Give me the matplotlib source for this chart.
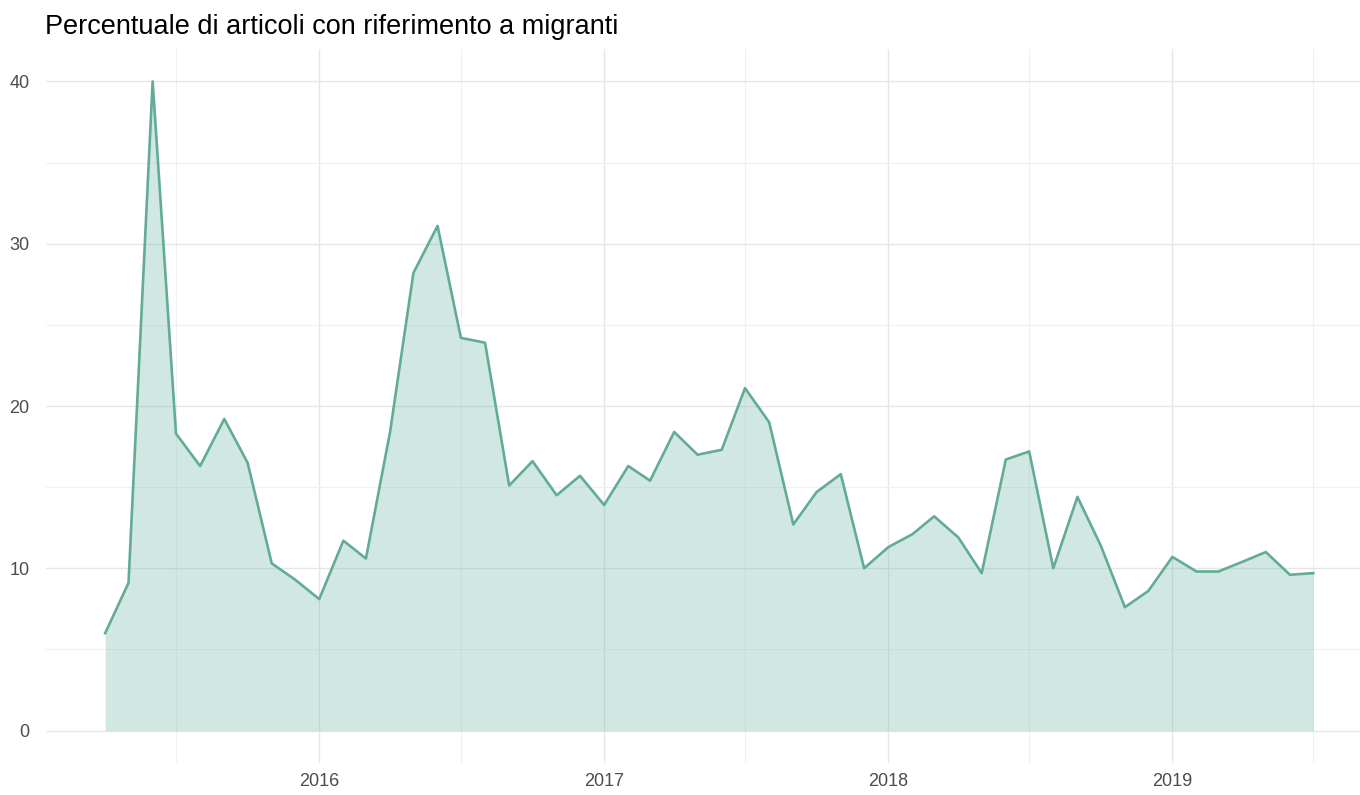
import numpy as np
import pandas as pd
import matplotlib
matplotlib.use("Agg")
import matplotlib.pyplot as plt
import matplotlib.dates as mdates

plt.rcParams['font.family'] = ['Liberation Sans', 'DejaVu Sans']

# monthly share of articles mentioning migrants (Apr 2015 - Jul 2019)
months = pd.date_range('2015-04-01', '2019-07-01', freq='MS')
percent = [6.0, 9.1, 40.0, 18.3, 16.3, 19.2, 16.5, 10.3, 9.3,
           8.1, 11.7, 10.6, 18.4, 28.2, 31.1, 24.2, 23.9, 15.1, 16.6, 14.5, 15.7,
           13.9, 16.3, 15.4, 18.4, 17.0, 17.3, 21.1, 19.0, 12.7, 14.7, 15.8, 10.0,
           11.3, 12.1, 13.2, 11.9, 9.7, 16.7, 17.2, 10.0, 14.4, 11.4, 7.6, 8.6,
           10.7, 9.8, 9.8, 10.4, 11.0, 9.6, 9.7]
year_ticks = ['2016', '2017', '2018', '2019']

col = '#69b3a2'

fig = plt.figure(figsize=(13.6, 7.95), dpi=100)
ax = fig.add_axes([46/1360, (795-763)/795, (1360-46)/1360, (763-49)/795])

ax.fill_between(months, 0, percent, color=col, alpha=0.3, linewidth=0, zorder=2)
ax.plot(months, percent, color='#62ab99', linewidth=1.9, zorder=3)

ax.set_xlim(pd.Timestamp('2015-01-15'), pd.Timestamp('2019-08-30'))
ax.set_ylim(-2, 42)

ax.set_xticks([pd.Timestamp(y + '-01-01') for y in year_ticks])
ax.set_xticklabels(year_ticks)
ax.set_xticks([pd.Timestamp(f'{y}-07-01') for y in range(2015, 2020)], minor=True)
ax.set_yticks([0, 10, 20, 30, 40])
ax.set_yticks([5, 15, 25, 35], minor=True)

ax.set_axisbelow(True)
ax.grid(which='major', color='#e6e6e6', linewidth=1.0)
ax.grid(which='minor', color='#f0f0f0', linewidth=0.8)
for s in ax.spines.values():
    s.set_visible(False)
ax.tick_params(which='both', length=0, labelsize=13, labelcolor='#4d4d4d')
ax.tick_params(axis='x', pad=7)
ax.tick_params(axis='y', pad=12)

fig.text(45/1360, 1 - 27/795, 'Percentuale di articoli con riferimento a migranti',
         fontsize=19.5, color='black', va='center', ha='left')

fig.savefig('out.png', dpi=100)
